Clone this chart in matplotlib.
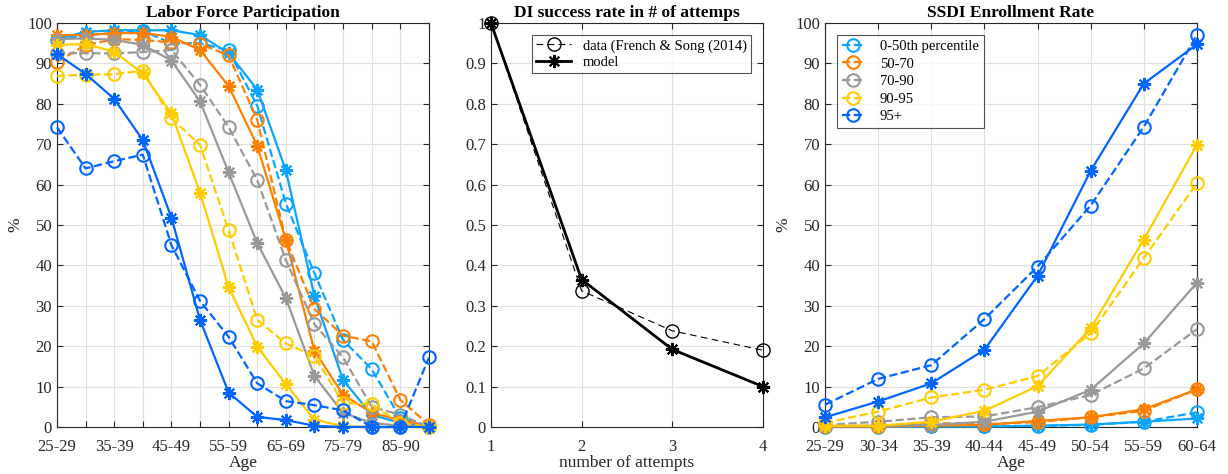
import numpy as np
import matplotlib
matplotlib.use("Agg")
import matplotlib.pyplot as plt

plt.rcParams["font.family"] = ["Liberation Serif", "DejaVu Serif"]

# age groups, labor force participation (%)
lfp_ages = ["25-29", "30-34", "35-39", "40-44", "45-49", "50-54", "55-59",
            "60-64", "65-69", "70-74", "75-79", "80-84", "85-90", "90+"]

lfp_model = {
    "0-50th percentile": [96.0, 97.8, 98.2, 98.2, 98.2, 97.0, 92.5, 83.5, 63.5, 32.3, 11.6, 3.0, 1.0, 0.2],
    "50-70": [97.0, 97.0, 97.5, 97.5, 96.6, 93.3, 84.4, 69.6, 46.3, 18.8, 8.0, 3.5, 1.7, 0.3],
    "70-90": [96.0, 96.2, 95.8, 94.6, 90.7, 80.6, 63.0, 45.5, 31.9, 12.6, 3.5, 1.0, 0.3, 0.0],
    "90-95": [94.6, 94.8, 92.9, 87.5, 77.6, 58.0, 34.6, 19.9, 10.6, 1.8, 0.2, 0.0, 0.0, 0.0],
    "95+": [92.3, 87.4, 81.2, 71.0, 51.8, 26.5, 8.5, 2.5, 1.7, 0.3, 0.0, 0.0, 0.0, 0.0],
}
lfp_data = {
    "0-50th percentile": [95.9, 97.0, 97.5, 98.0, 95.0, 95.0, 93.2, 79.5, 55.3, 38.0, 21.5, 14.3, 2.2, 0.0],
    "50-70": [90.4, 94.5, 96.0, 95.8, 95.2, 94.8, 92.0, 76.0, 46.3, 29.2, 22.6, 21.2, 6.7, 0.5],
    "70-90": [92.6, 92.5, 92.5, 92.8, 93.3, 84.7, 74.2, 61.1, 41.3, 25.4, 17.2, 5.0, 3.0, 0.0],
    "90-95": [86.9, 87.2, 87.3, 88.2, 76.4, 69.8, 48.7, 26.5, 20.7, 17.5, 6.0, 5.6, 1.0, 0.0],
    "95+": [74.2, 64.0, 65.8, 67.4, 45.0, 31.2, 22.3, 10.8, 6.4, 5.4, 4.1, 0.0, 0.0, 17.2],
}

# DI success rate by number of attempts
attempts = [1, 2, 3, 4]
di_data = [1.0, 0.337, 0.238, 0.19]
di_model = [1.0, 0.365, 0.192, 0.10]

# SSDI enrollment rate (%)
ssdi_ages = ["25-29", "30-34", "35-39", "40-44", "45-49", "50-54", "55-59", "60-64"]
ssdi_model = {
    "0-50th percentile": [0.0, 0.0, 0.1, 0.1, 0.3, 0.6, 1.3, 2.1],
    "50-70": [0.1, 0.1, 0.3, 0.5, 1.5, 2.4, 4.4, 9.3],
    "70-90": [0.2, 0.3, 0.5, 1.3, 3.8, 9.2, 20.7, 35.7],
    "90-95": [0.3, 0.3, 1.3, 4.0, 10.1, 24.4, 46.4, 69.8],
    "95+": [2.4, 6.3, 10.8, 19.1, 37.4, 63.4, 85.0, 94.7],
}
ssdi_data = {
    "0-50th percentile": [0.1, 0.1, 0.2, 0.2, 0.3, 0.5, 1.3, 3.6],
    "50-70": [0.2, 0.3, 1.0, 0.7, 1.2, 2.4, 4.0, 9.3],
    "70-90": [0.5, 1.3, 2.4, 2.6, 4.9, 7.9, 14.5, 24.2],
    "90-95": [1.0, 3.8, 7.3, 9.2, 12.6, 23.2, 41.8, 60.3],
    "95+": [5.5, 11.9, 15.3, 26.7, 39.7, 54.8, 74.3, 97.0],
}

groups = ["0-50th percentile", "50-70", "70-90", "90-95", "95+"]
colors = ["#0AA5FF", "#FF8000", "#999999", "#FFCC00", "#0066FF"]

star = (8, 2, 0)
txt = "#262626"


def style_axes(ax):
    ax.grid(True, color="#e0e0e0", linewidth=0.8)
    ax.set_axisbelow(True)
    ax.tick_params(direction="in", top=True, right=True, colors=txt,
                   labelsize=12, length=4, width=0.8)
    ax.tick_params(axis="x", pad=9)
    for s in ax.spines.values():
        s.set_color(txt)
        s.set_linewidth(0.8)


fig = plt.figure(figsize=(12.28, 4.74), dpi=100)
ax1 = fig.add_axes([0.0464, 0.0992, 0.3029, 0.8523])
ax2 = fig.add_axes([0.3998, 0.0992, 0.2215, 0.8523])
ax3 = fig.add_axes([0.6718, 0.0992, 0.3029, 0.8523])

# labor force participation
x1 = np.arange(1, len(lfp_ages) + 1)
for g, c in zip(groups, colors):
    ax1.plot(x1, lfp_model[g], "-", color=c, lw=1.6, marker=star, ms=9.5,
             mew=1.5, clip_on=False, zorder=3)
    ax1.plot(x1, lfp_data[g], "--", color=c, lw=1.6, marker="o", ms=9,
             mfc="none", mew=1.5, clip_on=False, zorder=3)
ax1.set_xlim(1, len(lfp_ages))
ax1.set_ylim(0, 100)
ax1.set_xticks(x1)
ax1.set_xticklabels([a if i % 2 == 0 else "" for i, a in enumerate(lfp_ages)])
ax1.set_yticks(np.arange(0, 101, 10))
ax1.set_title("Labor Force Participation", fontsize=12.5, fontweight="bold", pad=4)
ax1.set_xlabel("Age", fontsize=12.5, color=txt, labelpad=0)
ax1.set_ylabel("%", fontsize=12.5, color=txt, labelpad=3)
style_axes(ax1)

# DI success rate
ax2.plot(attempts, di_data, "--", color="black", lw=0.8, marker="o", ms=9.5,
         mfc="none", mew=1.0, dashes=(6, 4), clip_on=False, zorder=3,
         label="data (French & Song (2014)")
ax2.plot(attempts, di_model, "-", color="black", lw=2.0, marker=star, ms=9.5,
         mew=1.5, clip_on=False, zorder=3, label="model")
ax2.set_xlim(1, 4)
ax2.set_ylim(0, 1)
ax2.set_xticks(attempts)
ax2.set_yticks(np.arange(0, 1.01, 0.1))
ax2.set_yticklabels(["0"] + [f"{v:.1f}" for v in np.arange(0.1, 0.95, 0.1)] + ["1"])
ax2.set_title("DI success rate in # of attemps", fontsize=12.5, fontweight="bold", pad=4)
ax2.set_xlabel("number of attempts", fontsize=12.5, color=txt, labelpad=0)
style_axes(ax2)
leg2 = ax2.legend(loc="upper right", fontsize=10.5, frameon=True, fancybox=False,
                  edgecolor=txt, handlelength=2.4, borderpad=0.3,
                  labelspacing=0.2, borderaxespad=0.8)
leg2.get_frame().set_linewidth(0.8)

# SSDI enrollment
x3 = np.arange(1, len(ssdi_ages) + 1)
for g, c in zip(groups, colors):
    ax3.plot(x3, ssdi_model[g], "-", color=c, lw=1.6, marker=star, ms=9.5,
             mew=1.5, clip_on=False, zorder=3)
    ax3.plot(x3, ssdi_data[g], "--", color=c, lw=1.6, marker="o", ms=9,
             mfc="none", mew=1.5, clip_on=False, zorder=3, label=g)
ax3.set_xlim(1, len(ssdi_ages))
ax3.set_ylim(0, 100)
ax3.set_xticks(x3)
ax3.set_xticklabels(ssdi_ages)
ax3.set_yticks(np.arange(0, 101, 10))
ax3.set_title("SSDI Enrollment Rate", fontsize=12.5, fontweight="bold", pad=4)
ax3.set_xlabel("Age", fontsize=12.5, color=txt, labelpad=0)
ax3.set_ylabel("%", fontsize=12.5, color=txt, labelpad=3)
style_axes(ax3)
leg3 = ax3.legend(loc="upper left", fontsize=10.5, frameon=True, fancybox=False,
                  edgecolor=txt, handlelength=1.6, handletextpad=1.0,
                  borderpad=0.35, labelspacing=0.3, borderaxespad=0.8)
leg3.get_frame().set_linewidth(0.8)

fig.savefig("out.png", dpi=100)
